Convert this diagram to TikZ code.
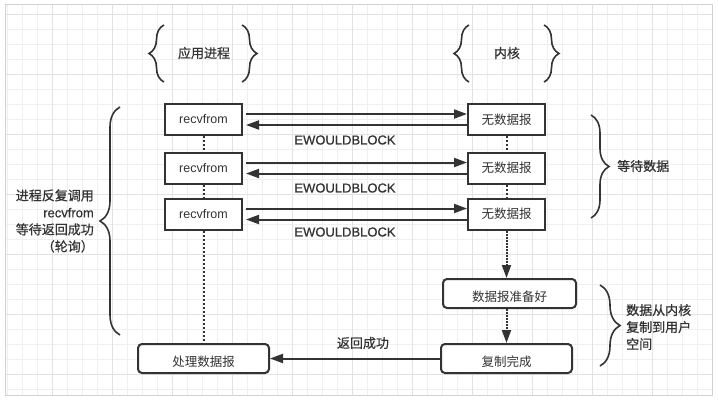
\documentclass[tikz,border=0pt]{standalone}
\usepackage{fontspec}
\setmainfont{Liberation Sans}
\newfontfamily\cjk{Noto Sans CJK SC}
\newfontfamily\notelatin[FakeBold=0.6]{Liberation Sans}
\newfontfamily\notecjk[FakeBold=0.6]{Noto Sans CJK SC}
\usetikzlibrary{arrows.meta,decorations.pathreplacing}

\definecolor{ink}{HTML}{333333}
\definecolor{minorgrid}{HTML}{EFEFEF}
\definecolor{majorgrid}{HTML}{E2E2E2}
\definecolor{frameline}{HTML}{D2D2D2}

\tikzset{
  callbox/.style={draw=ink, line width=2pt, fill=white, text=ink, inner sep=0pt,
    minimum width=77pt, minimum height=31pt, font=\fontsize{12.5}{15}\selectfont},
  stagebox/.style={callbox, rounded corners=4pt, minimum height=29pt,
    text height=16pt, text depth=0pt},
  flow/.style={draw=ink, line width=2pt, -{Triangle[length=13pt,width=9pt]}},
  poll/.style={draw=ink, line width=2pt, dash pattern=on 2pt off 2pt},
  bracket/.style={draw=ink, line width=1.6pt, decorate, decoration={brace, amplitude=#1}},
  note/.style={text=ink, inner sep=0pt, font=\fontsize{13}{17}\selectfont\notelatin}
}

\begin{document}
\begin{tikzpicture}[x=1pt, y=-1pt]
  \useasboundingbox (0,0) rectangle (718,400);
  % background grid
  \fill[white] (5,4) rectangle (712,395);
  \foreach \gx in {7,22,...,707}
    \draw[minorgrid, line width=0.8pt] (\gx,4) -- (\gx,395);
  \foreach \gy in {14,29,...,389}
    \draw[minorgrid, line width=0.8pt] (5,\gy) -- (712,\gy);
  \foreach \gx in {52,112,...,707}
    \draw[majorgrid, line width=0.8pt] (\gx,4) -- (\gx,395);
  \foreach \gy in {14,74,...,389}
    \draw[majorgrid, line width=0.8pt] (5,\gy) -- (712,\gy);
  \draw[frameline, line width=1pt] (5,4) rectangle (712,395);

  % column headers
  \node[note] (app) at (204,53) {\notecjk 应用进程};
  \node[note] (kernel) at (507,53) {\notecjk 内核};
  \draw[bracket=15pt] (164,82) -- (164,25);
  \draw[bracket=15pt] (242,25) -- (242,82);
  \draw[bracket=15pt] (469,82) -- (469,25);
  \draw[bracket=15pt] (544,25) -- (544,82);

  % polling calls
  \node[callbox] (r1) at (203.5,119.5) {recvfrom};
  \node[callbox] (r2) at (203.5,168) {recvfrom};
  \node[callbox] (r3) at (203.5,214) {recvfrom};
  \node[callbox] (k1) at (506.5,119.5) {\cjk 无数据报};
  \node[callbox] (k2) at (506.5,168) {\cjk 无数据报};
  \node[callbox] (k3) at (506.5,214) {\cjk 无数据报};

  \foreach \i in {1,2,3} {
    \draw[flow, shorten <=3pt] ([yshift=5.5pt]r\i.east) -- ([yshift=5.5pt]k\i.west);
    \draw[flow, shorten >=3pt] ([yshift=-5.5pt]k\i.west) -- ([yshift=-5.5pt]r\i.east);
  }
  \node[note] (e1) at (345,140) {EWOULDBLOCK};
  \node[note] (e2) at (345,188) {EWOULDBLOCK};
  \node[note] (e3) at (345,232) {EWOULDBLOCK};

  \draw[poll] (r1.south) -- (r2.north);
  \draw[poll] (r2.south) -- (r3.north);
  \draw[poll] (k1.south) -- (k2.north);
  \draw[poll] (k2.south) -- (k3.north);

  % data ready and copy
  \node[stagebox, minimum width=133pt] (ready) at (509.5,293.5) {\cjk 数据报准备好};
  \node[stagebox, minimum width=131pt] (copied) at (506.5,358.5) {\cjk 复制完成};
  \node[stagebox, minimum width=131pt] (handle) at (203.5,358.5) {\cjk 处理数据报};

  \draw[poll] (r3.south) -- (handle.north);
  \draw[flow, dash pattern=on 2pt off 1pt] (k3.south) -- (k3.south |- ready.north);
  \draw[flow, dash pattern=on 2pt off 1pt] (copied.north |- ready.south) -- (copied.north);
  \draw[flow] (copied.west) -- (handle.east);
  \node[note] (ok) at (363,343) {\notecjk 返回成功};

  % side notes
  \draw[bracket=20pt] (120,335) -- (120,107);
  \node[note, anchor=east, align=right] (polling) at (94,221)
    {{\notecjk 进程反复调用}\\recvfrom\\{\notecjk 等待返回成功}\\{\notecjk （轮询）}};
  \draw[bracket=18pt] (591,115) -- (591,218);
  \node[note, anchor=west] (waitdata) at (617,166) {\notecjk 等待数据};
  \draw[bracket=20pt] (600,285) -- (600,366);
  \node[note, anchor=west, align=left] (copydata) at (626,327)
    {{\notecjk 数据从内核}\\{\notecjk 复制到用户}\\{\notecjk 空间}};
\end{tikzpicture}
\end{document}
